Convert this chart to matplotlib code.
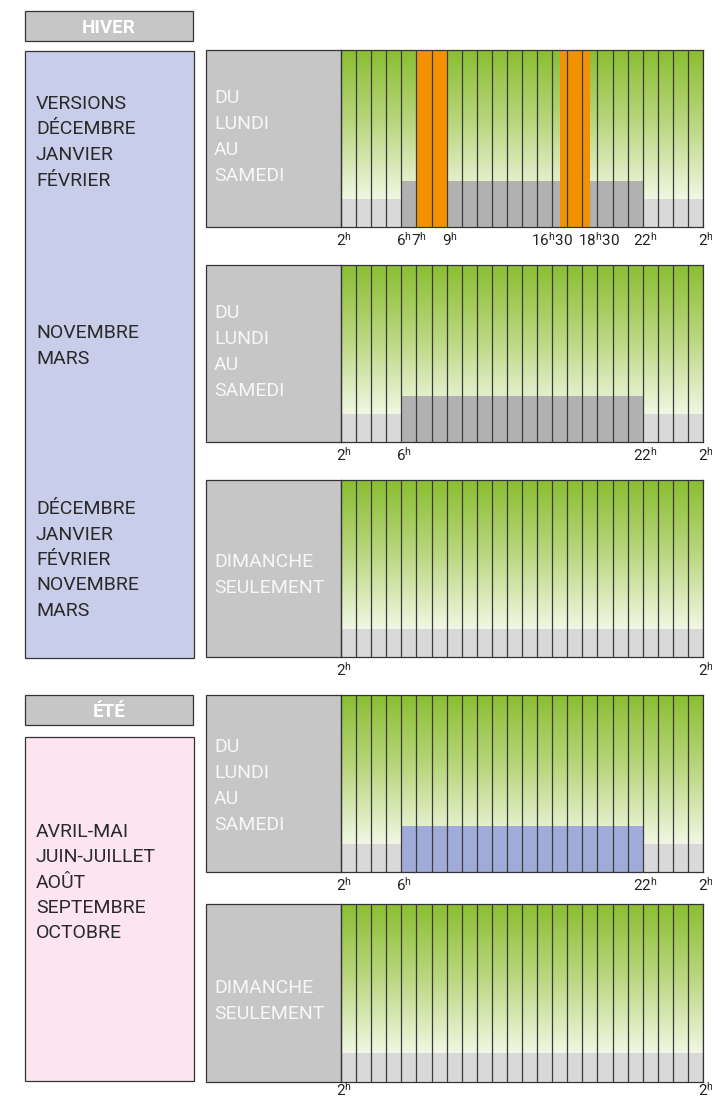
import matplotlib.pyplot as plt
import numpy as np
from matplotlib.patches import Rectangle
from matplotlib.colors import LinearSegmentedColormap

plt.rcParams['font.family'] = ['Roboto', 'DejaVu Sans']
plt.rcParams['mathtext.fontset'] = 'custom'
plt.rcParams['mathtext.rm'] = 'Roboto'

# %% data
seasons = ['HIVER', 'ÉTÉ']
months_winter_a = ['VERSIONS', 'DÉCEMBRE', 'JANVIER', 'FÉVRIER']
months_winter_b = ['NOVEMBRE', 'MARS']
months_winter_c = ['DÉCEMBRE', 'JANVIER', 'FÉVRIER', 'NOVEMBRE', 'MARS']
months_summer = ['AVRIL-MAI', 'JUIN-JUILLET', 'AOÛT', 'SEPTEMBRE', 'OCTOBRE']
days_week = ['DU', 'LUNDI', 'AU', 'SAMEDI']
days_sunday = ['DIMANCHE', 'SEULEMENT']

hour_start, hour_end = 2, 26   # 2h -> 2h le lendemain
# (debut, fin, tranche)
slots_winter_a = [(2, 6, 'creuse'), (6, 7, 'pleine'), (7, 9, 'pointe'),
                  (9, 16.5, 'pleine'), (16.5, 18.5, 'pointe'),
                  (18.5, 22, 'pleine'), (22, 26, 'creuse')]
slots_winter_b = [(2, 6, 'creuse'), (6, 22, 'pleine'), (22, 26, 'creuse')]
slots_sunday = [(2, 26, 'creuse')]
slots_summer = [(2, 6, 'creuse'), (6, 22, 'ete'), (22, 26, 'creuse')]

ticks_winter_a = [2, 6, 7, 9, 16.5, 18.5, 22, 26]
ticks_week = [2, 6, 22, 26]
ticks_sunday = [2, 26]

# %% styles
level = {'creuse': 28 / 177, 'pleine': 46 / 177, 'pointe': 1.0, 'ete': 46 / 177}
colour = {'creuse': '#d9d9d9', 'pleine': '#b1b1b1', 'pointe': '#f39200', 'ete': '#a1abd9'}
edge = '#333333'
box_grey = '#c6c6c6'
green = LinearSegmentedColormap.from_list('g', ['#f1f7e3', '#bad780', '#8bbe31'])
nudge = {16.5: -11, 18.5: 6}

W, H = 712, 1098
fig = plt.figure(figsize=(W / 100, H / 100), dpi=100)
bg = fig.add_axes([0, 0, 1, 1])
bg.set_xlim(0, W)
bg.set_ylim(H, 0)
bg.axis('off')


def box(x0, y0, x1, y1, fc):
    bg.add_patch(Rectangle((x0, y0), x1 - x0, y1 - y0, facecolor=fc,
                           edgecolor=edge, linewidth=0.9))


def lines(x, y0, words, step, **kw):
    for i, w in enumerate(words):
        bg.text(x, y0 + i * step, w, va='baseline', ha='left', fontsize=14, **kw)


def fmt(h):
    s = f'{int(h) % 24}^{{h}}'
    if h % 1:
        s += '30'
    return r'$\mathrm{' + s + '}$'


def panel(top, bottom, slots, ticks, words, first_base, tick_drop=19):
    # label box on the left
    box(206, top, 341, bottom, box_grey)
    lines(214, first_base, words, 26, color='#f7f7f7')
    ax = fig.add_axes([341 / W, 1 - bottom / H, 362 / W, (bottom - top) / H])
    ax.set_xlim(hour_start, hour_end)
    ax.set_ylim(0, 1)
    grad = np.linspace(0, 1, 256).reshape(-1, 1)
    ax.imshow(grad, cmap=green, origin='lower', aspect='auto',
              extent=(hour_start, hour_end, level['creuse'], 1), zorder=0)
    for a, b, kind in slots:
        ax.bar(a, level[kind], width=b - a, align='edge', color=colour[kind],
               linewidth=0, zorder=1)
    for h in range(hour_start, hour_end + 1):
        ax.axvline(h, color='#3a3a3a', lw=0.9, zorder=2)
    for s in ax.spines.values():
        s.set_color(edge)
        s.set_linewidth(0.9)
    ax.set_xticks([])
    ax.set_yticks([])
    ax.patch.set_alpha(0)
    for h in ticks:
        ax.annotate(fmt(h), xy=(h, 0), xycoords=('data', 'axes fraction'),
                    xytext=(3 + nudge.get(h, 0), -tick_drop), textcoords='offset pixels',
                    ha='center', va='baseline', fontsize=11, color='#222222',
                    annotation_clip=False)
    return ax


# %% hiver
box(25, 11, 193, 41, box_grey)
bg.text(109, 33, seasons[0], ha='center', va='baseline', fontsize=13.5,
        fontweight='bold', color='white')
box(25, 51, 194, 658, '#c8cdea')
lines(36, 109, months_winter_a, 25.5, color='#2a2a2a')
lines(36, 338, months_winter_b, 25.5, color='#2a2a2a')
lines(36, 514, months_winter_c, 25.5, color='#2a2a2a')

panel(50, 227, slots_winter_a, ticks_winter_a, days_week, 103)
panel(265, 442, slots_winter_b, ticks_week, days_week, 318)
panel(480, 657, slots_sunday, ticks_sunday, days_sunday, 567)

# %% ete
box(25, 695, 193, 725, box_grey)
bg.text(109, 717, seasons[1], ha='center', va='baseline', fontsize=13.5,
        fontweight='bold', color='white')
box(25, 737, 194, 1081, '#fce4f0')
lines(36, 837, months_summer, 25.3, color='#2a2a2a')

panel(695, 872, slots_summer, ticks_week, days_week, 752)
panel(904, 1081.5, slots_sunday, ticks_sunday, days_sunday, 993, tick_drop=14)

fig.savefig('out.png', dpi=100)
